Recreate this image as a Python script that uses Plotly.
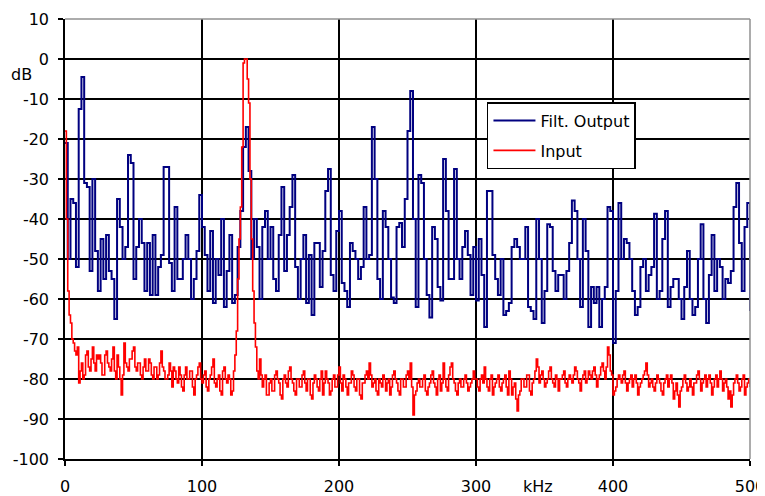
import plotly.graph_objects as go

# frequency grids (kHz)
freq_khz_out = list(range(0, 501, 2))
freq_khz_in = list(range(0, 501, 1))

# Filtered output spectrum (dB), 2 kHz bins
filt_output_db = [
    -21, -50, -35, -36, -52, -12.5, -4.5, -31, -32, -53,
    -30, -48, -58, -45, -55, -44, -53, -55, -65, -35,
    -42, -50, -47, -24, -26, -55, -47, -40, -46, -58,
    -46, -59, -44, -59, -52, -49, -27, -27, -51, -58,
    -37, -55, -55, -50, -44, -50, -60, -55, -48, -34,
    -42, -49, -58, -43, -61, -50, -54, -40, -62, -53,
    -44, -61, -59, -47, -38, -22, -17, -28, -50, -40,
    -47, -60, -42, -38, -50, -42, -55, -58, -44, -32,
    -53, -44, -37, -29, -52, -60, -50, -44, -61, -49,
    -64, -46, -46, -57, -48, -33, -27.5, -54, -58, -43,
    -38, -56, -58, -62, -46, -48, -50, -55, -52, -37,
    -50, -49, -17, -30, -55, -60, -38, -42, -50, -59.6,
    -61, -42, -41, -47, -35, -18, -8, -40, -62, -29,
    -31, -50, -59, -64.6, -42, -45, -57, -60.4, -25, -38,
    -55, -55, -27.5, -50, -55, -47, -43, -49, -59, -47,
    -60.4, -45, -54, -67, -33, -33, -49, -55, -59, -50,
    -64, -63, -61, -47, -45, -47, -50, -50, -42, -62,
    -63, -65, -40, -50, -66, -58, -41.3, -42, -53, -58,
    -54, -54, -60, -53, -46, -35.4, -38, -50, -62, -40,
    -48, -67, -57, -61, -57, -67, -60, -57, -37, -38,
    -71, -58, -36, -50, -45, -46, -50, -58, -64, -62,
    -52, -50, -58, -54, -52, -38.7, -60, -58, -45, -38,
    -62, -57, -55, -55, -60, -65, -57, -48, -60, -64,
    -62, -50, -41.3, -60, -66, -54, -44, -58, -50, -52,
    -60, -55, -56, -53, -37, -31, -46, -58, -42, -36,
    -63,
]

# Input spectrum (dB), 1 kHz bins
input_db = [
    -18, -40, -58, -64, -66, -70, -71, -73, -74, -72,
    -81, -78, -76, -80, -79, -74, -73, -77, -78, -75,
    -72, -76, -78, -74, -75, -74, -76, -79, -79, -74,
    -73, -76, -77, -78, -75, -72, -78, -80, -74, -77,
    -80, -84, -79, -71, -76, -77, -78, -75, -75, -73,
    -72, -77, -78, -76, -76, -79, -80, -77, -75, -78,
    -78, -75, -76, -79, -80, -77, -77, -80, -79, -76,
    -73, -77, -78, -80, -80, -79, -76, -78, -82, -77,
    -78, -80, -81, -77, -79, -82, -83, -79, -77, -80,
    -80, -78, -78, -82, -84, -80, -79, -77, -76, -80,
    -81, -79, -78, -82, -83, -80, -79, -77, -75, -81,
    -82, -80, -79, -83, -84, -78, -77, -80, -81, -79,
    -80, -84, -83, -78, -74, -68, -55, -45, -37, -22,
    -1, 0, 0, -5, -11, -30, -45, -58, -66, -72,
    -78, -80, -75, -79, -82, -80, -79, -84, -84, -81,
    -80, -83, -83, -79, -78, -80, -81, -84, -85, -80,
    -79, -81, -82, -78, -77, -80, -81, -83, -84, -80,
    -80, -82, -82, -79, -78, -81, -83, -80, -80, -84,
    -85, -81, -79, -80, -82, -83, -80, -78, -84, -81,
    -78, -80, -81, -84, -83, -80, -79, -82, -82, -79,
    -77, -81, -83, -79, -80, -82, -84, -81, -81, -78,
    -79, -82, -83, -80, -80, -84, -85, -81, -81, -79,
    -78, -80, -76, -79, -82, -81, -80, -83, -84, -80,
    -81, -82, -79, -80, -83, -81, -80, -84, -82, -79,
    -78, -80, -81, -83, -84, -80, -80, -82, -82, -79,
    -78, -80, -76, -82, -89, -84, -83, -81, -80, -82,
    -82, -80, -79, -83, -84, -82, -81, -79, -78, -81,
    -82, -84, -80, -79, -83, -81, -76, -80, -82, -83,
    -79, -77, -76, -80, -81, -83, -84, -81, -80, -82,
    -82, -80, -79, -81, -83, -82, -81, -80, -78, -80,
    -80, -82, -83, -80, -79, -81, -77, -80, -82, -83,
    -80, -79, -84, -82, -81, -80, -79, -82, -83, -81,
    -80, -79, -82, -84, -78, -80, -84, -82, -81, -85,
    -88, -84, -83, -80, -80, -82, -82, -79, -79, -83,
    -84, -81, -80, -78, -75, -77, -81, -79, -78, -80,
    -82, -81, -80, -78, -77, -80, -81, -82, -79, -80,
    -83, -80, -80, -79, -78, -81, -82, -80, -79, -80,
    -81, -79, -77, -78, -80, -81, -83, -80, -79, -78,
    -81, -80, -78, -79, -80, -78, -77, -79, -82, -80,
    -79, -77, -76, -78, -80, -77, -72, -74, -78, -79,
    -84, -83, -82, -80, -79, -80, -81, -79, -78, -81,
    -83, -81, -80, -79, -82, -80, -79, -81, -84, -82,
    -81, -80, -79, -78, -76, -79, -82, -81, -80, -82,
    -83, -81, -79, -80, -81, -83, -84, -81, -80, -79,
    -82, -80, -79, -81, -85, -83, -81, -84, -87, -83,
    -82, -80, -79, -81, -83, -82, -80, -82, -84, -81,
    -81, -79, -78, -80, -83, -81, -80, -79, -82, -80,
    -79, -81, -84, -82, -80, -79, -82, -80, -78, -80,
    -83, -81, -80, -82, -85, -83, -87, -84, -81, -80,
    -79, -81, -83, -82, -80, -79, -84, -82, -81, -80,
    -82,
]

x_ticks = [0, 100, 200, 300, 400, 500]
y_ticks = list(range(-100, 11, 10))

FONT = "DejaVu Sans, Verdana, sans-serif"

fig = go.Figure()
fig.add_trace(go.Scatter(
    x=freq_khz_out, y=filt_output_db, mode="lines", name="Filt. Output",
    line=dict(color="#000080", width=2, shape="hv"), legendgroup="a",
))
fig.add_trace(go.Scatter(
    x=freq_khz_in, y=input_db, mode="lines", name="Input",
    line=dict(color="#FF0000", width=1.6, shape="hv"), legendgroup="b",
))

fig.update_layout(
    width=757, height=488,
    margin=dict(l=57, r=15, t=11, b=37, autoexpand=False),
    paper_bgcolor="white", plot_bgcolor="white",
    font=dict(family=FONT, size=16, color="black"),
    showlegend=True,
    legend=dict(
        x=0.616, y=0.811, xanchor="left", yanchor="top",
        bgcolor="white", bordercolor="black", borderwidth=1.5,
        font=dict(family=FONT, size=16, color="black"),
        tracegroupgap=6, itemwidth=42,
    ),
    xaxis=dict(
        range=[0, 500], tickvals=x_ticks, ticktext=[str(v) for v in x_ticks],
        showgrid=True, gridcolor="black", gridwidth=1.5,
        showline=True, linecolor="black", linewidth=1.5,
        ticks="outside", ticklen=5, tickcolor="black", tickwidth=1.5,
        zeroline=False, ticklabelstandoff=7, automargin=False,
        ticklabeloverflow="allow",
    ),
    yaxis=dict(
        range=[-100, 10], tickvals=y_ticks, ticktext=[str(v) for v in y_ticks],
        showgrid=True, gridcolor="black", gridwidth=1.5,
        showline=True, linecolor="black", linewidth=1.5,
        ticks="outside", ticklen=5, tickcolor="black", tickwidth=1.5,
        zeroline=False, ticklabelstandoff=6, automargin=False,
        ticklabeloverflow="allow",
    ),
)

# gray plot-area border on top and right
fig.add_shape(type="line", xref="paper", yref="paper", x0=0, x1=1, y0=1, y1=1,
              line=dict(color="#909090", width=1.5), layer="above")
fig.add_shape(type="line", xref="paper", yref="paper", x0=1, x1=1, y0=0, y1=1,
              line=dict(color="#909090", width=1.5), layer="above")

fig.add_annotation(text="dB", xref="paper", yref="paper", x=-0.063, y=0.875,
                   showarrow=False, font=dict(family=FONT, size=16, color="black"),
                   xanchor="center", yanchor="middle")
fig.add_annotation(text="kHz", xref="paper", yref="paper", x=0.69, y=-0.062,
                   showarrow=False, font=dict(family=FONT, size=16, color="black"),
                   xanchor="center", yanchor="middle")

fig.write_html("out.html")
